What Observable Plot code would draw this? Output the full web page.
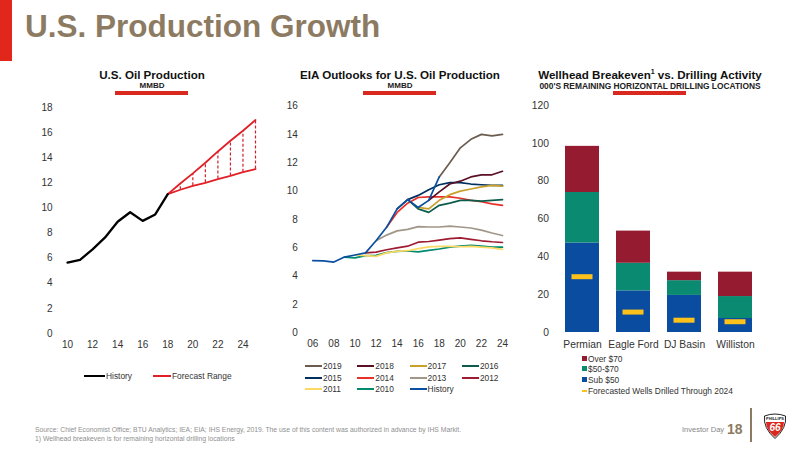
<!DOCTYPE html>
<html><head><meta charset="utf-8">
<script src="https://cdn.jsdelivr.net/npm/d3@7"></script>
<script src="https://cdn.jsdelivr.net/npm/@observablehq/plot@0.6"></script>
<style>
html,body{margin:0;padding:0;background:#fff;}
body{width:800px;height:450px;position:relative;overflow:hidden;font-family:"Liberation Sans",Arial,sans-serif;color:#222;}
.a{position:absolute;white-space:nowrap;}
.ct{font-weight:bold;font-size:11.6px;color:#111;text-align:center;}
.cs{font-weight:bold;font-size:8px;color:#222;text-align:center;}
.rb{position:absolute;height:3.5px;background:#d9281e;}
.lg{position:absolute;font-size:8.4px;color:#333;}
.lg i{position:absolute;display:block;}
.lg span{position:absolute;white-space:nowrap;}
</style></head><body>
<div class="a" style="left:0;top:0;width:12px;height:61px;background:#e1261c"></div>
<div class="a" style="left:25px;top:8px;font-size:31.5px;font-weight:bold;color:#8c7b62;">U.S. Production Growth</div>

<div class="a ct" style="left:52px;width:200px;top:68px">U.S. Oil Production</div>
<div class="a cs" style="left:52px;width:200px;top:81px">MMBD</div>
<div class="rb" style="left:115px;width:73px;top:91px"></div>

<div class="a ct" style="left:300px;width:200px;top:68px">EIA Outlooks for U.S. Oil Production</div>
<div class="a cs" style="left:300px;width:200px;top:81px">MMBD</div>
<div class="rb" style="left:363px;width:73px;top:91px"></div>

<div class="a ct" style="left:530px;width:240px;top:68px">Wellhead Breakeven<sup style="font-size:7px;line-height:0">1</sup> vs. Drilling Activity</div>
<div class="a cs" style="left:530px;width:240px;top:81px;font-size:8.4px">000'S REMAINING HORIZONTAL DRILLING LOCATIONS</div>
<div class="rb" style="left:613px;width:73px;top:91px"></div>

<div id="c1" class="a" style="left:0;top:90px"></div>
<div id="c2" class="a" style="left:270px;top:90px"></div>
<div id="c3" class="a" style="left:520px;top:90px"></div>

<div id="lg1"></div><div id="lg2"></div><div id="lg3"></div>

<div class="a" style="left:35px;top:424.5px;font-size:6.8px;line-height:9px;color:#909090">Source: Chief Economist Office; BTU Analytics; IEA; EIA; IHS Energy, 2019. The use of this content was authorized in advance by IHS Markit.<br>1) Wellhead breakeven is for remaining horizontal drilling locations</div>
<div class="a" style="left:682px;top:424.5px;font-size:7.5px;color:#888">Investor Day</div>
<div class="a" style="left:727px;top:421px;font-size:14px;font-weight:bold;color:#8c7b62">18</div>
<div class="a" style="left:750px;top:408px;width:1.5px;height:34px;background:#8c7b62"></div>
<svg class="a" style="left:763px;top:413px" width="24" height="26" viewBox="0 0 24 26">
<path d="M1.5 3 Q12 -1 22.5 3 Q24 15 12 25.5 Q0 15 1.5 3Z" fill="#fff" stroke="#222" stroke-width="1"/>
<path d="M3 9 H21 Q21 17 12 24 Q3 17 3 9Z" fill="#d9281e"/>
<text x="12" y="7.3" text-anchor="middle" font-size="4" font-weight="bold" fill="#222">PHILLIPS</text>
<text x="12" y="18" text-anchor="middle" font-size="10" font-weight="bold" font-style="italic" fill="#fff">66</text>
</svg>

<script>
// Chart 1
const histYears1 = [10,11,12,13,14,15,16,17,18];
const histValues1 = [5.65,5.87,6.7,7.65,8.9,9.66,8.97,9.48,11.1];
const fcYears = [18,19,20,21,22,23,24,25];
const fcUpper = [11.1,11.95,12.75,13.6,14.5,15.35,16.15,17.0];
const fcLower = [11.1,11.45,11.76,12.0,12.3,12.55,12.85,13.1];

// Chart 2
const eiaYears = [6,7,8,9,10,11,12,13,14,15,16,17,18,19,20,21,22,23,24];
const yr = n => String(n).padStart(2,"0");
const sHistory = [5.1,5.08,5.0,5.35,5.5,5.65,6.5,7.45,8.75,9.4,8.85,9.35,11.0];
const s2019 = [11.0,12.0,13.05,13.65,14.0,13.9,14.0];
const s2018 = [9.35,9.95,10.5,10.7,11.0,11.15,11.15,11.4];
const s2017 = [8.85,8.75,9.35,9.75,10.0,10.15,10.3,10.4,10.35];
const s2016 = [9.4,8.75,8.5,9.0,9.15,9.35,9.35,9.3,9.35,9.4];
const s2015 = [8.75,9.4,9.7,10.1,10.45,10.6,10.6,10.5,10.45,10.4,10.4];
const s2014 = [7.45,8.5,9.15,9.55,9.6,9.6,9.6,9.5,9.35,9.25,9.1,9.0];
const s2013 = [6.5,6.9,7.2,7.3,7.5,7.47,7.47,7.53,7.47,7.4,7.25,7.05,6.87];
const s2012 = [5.65,5.7,5.87,6.0,6.12,6.4,6.45,6.55,6.65,6.7,6.6,6.5,6.43,6.38];
const s2011 = [5.5,5.45,5.4,5.65,5.75,5.8,5.95,6.07,6.1,6.1,6.08,6.1,6.05,6.0,5.9];
const s2010 = [5.35,5.3,5.45,5.47,5.67,5.75,5.78,5.72,5.82,5.92,6.05,6.12,6.17,6.12,6.05,6.05];

const seriesOrder = [
 ["2010",s2010,9,"#008a6e"],["2011",s2011,10,"#fbd964"],["2012",s2012,11,"#9e1b32"],
 ["2013",s2013,12,"#a09788"],["2014",s2014,13,"#e8302a"],["2015",s2015,14,"#00305f"],
 ["2016",s2016,15,"#0c5c4c"],["2017",s2017,16,"#c8a02a"],["2018",s2018,17,"#5a0f24"],
 ["2019",s2019,18,"#6b5c50"],["History",sHistory,6,"#0a50a0"]];

// Chart 3
const basins = ["Permian","Eagle Ford","DJ Basin","Williston"];
const sub50 = [47.3,22,19.6,7.4];
const mid5070 = [26.7,14.6,7.8,11.6];
const over70 = [24.4,17,4.5,12.9];
const forecastWells = [29.5,10.8,6.5,5.7];
const tierColors = {"Sub $50":"#0a4da0","$50-$70":"#0a8a70","Over $70":"#941b30"};

const font = {fontFamily:'"Liberation Sans",Arial,sans-serif',fontSize:"10px",color:"#333",background:"transparent",overflow:"visible"};

// Chart 1 plot: svg origin (0,90)
const hist1 = histYears1.map((x,i)=>({x,y:histValues1[i]}));
const fc = fcYears.map((x,i)=>({x,u:fcUpper[i],l:fcLower[i]}));
document.getElementById("c1").append(Plot.plot({
  width:270,height:270,marginLeft:67,marginRight:15,marginTop:17,marginBottom:27,style:font,
  x:{domain:[10,25],ticks:[10,12,14,16,18,20,22,24],tickFormat:d=>d,tickSize:0,tickPadding:7,label:null},
  y:{domain:[0,18],ticks:d3.range(0,19,2),tickSize:0,tickPadding:15,label:null},
  marks:[
    Plot.ruleX(fc.slice(1),{x:"x",y1:"l",y2:"u",stroke:"#d0202a",strokeWidth:1.2,strokeDasharray:"3,2"}),
    Plot.line(fc,{x:"x",y:"u",stroke:"#e01f26",strokeWidth:1.8}),
    Plot.line(fc,{x:"x",y:"l",stroke:"#e01f26",strokeWidth:1.8}),
    Plot.line(hist1,{x:"x",y:"y",stroke:"#000",strokeWidth:2.3})
  ]}));

// Chart 2 plot: svg origin (270,90)
const rows2 = seriesOrder.flatMap(([name,vals,start,color])=>vals.map((v,i)=>({name,x:start+i,y:v})));
document.getElementById("c2").append(Plot.plot({
  width:250,height:270,marginLeft:42.3,marginRight:18,marginTop:15.5,marginBottom:27.5,style:font,
  x:{domain:[6,24],ticks:d3.range(6,25,2),tickFormat:yr,tickSize:0,tickPadding:7,label:null},
  y:{domain:[0,16],ticks:d3.range(0,17,2),tickSize:0,tickPadding:15,label:null},
  color:{domain:seriesOrder.map(s=>s[0]),range:seriesOrder.map(s=>s[3])},
  marks:[
    ...seriesOrder.map(([name])=>Plot.line(rows2.filter(r=>r.name===name),{x:"x",y:"y",stroke:"name",strokeWidth:1.7}))
  ]}));

// Chart 3 plot: svg origin (520,90)
const rows3 = basins.flatMap((b,i)=>[
  {b,tier:"Sub $50",v:sub50[i]},{b,tier:"$50-$70",v:mid5070[i]},{b,tier:"Over $70",v:over70[i]}]);
const wells = basins.map((b,i)=>({b,v:forecastWells[i]}));
document.getElementById("c3").append(Plot.plot({
  width:280,height:270,marginLeft:36.5,marginRight:39.5,marginTop:15,marginBottom:28,style:{...font,fontSize:"10.3px"},
  x:{domain:basins,paddingInner:1/3,paddingOuter:1/6,tickSize:0,tickPadding:8,label:null},
  y:{domain:[0,120],ticks:d3.range(0,121,20),tickSize:0,tickPadding:8,label:null},
  color:{domain:Object.keys(tierColors),range:Object.values(tierColors)},
  marks:[
    Plot.barY(rows3,Plot.stackY({x:"b",y:"v",fill:"tier",order:Object.keys(tierColors)})),
    Plot.tickY(wells,{x:"b",y:"v",stroke:"#fcc21b",strokeWidth:5,insetLeft:6.5,insetRight:6.5})
  ]}));

// Legends (HTML, real text)
function legend(host,items){
  const el=document.getElementById(host);
  items.forEach(([label,color,x,y,w,h,tx])=>{
    const d=document.createElement("div");d.className="lg";d.style.left=x+"px";d.style.top=Math.round(y)+"px";
    const i=document.createElement("i");i.style.cssText=`left:0;top:${-Math.round(h/2)}px;width:${w}px;height:${h}px;background:${color}`;
    const s=document.createElement("span");s.textContent=label;s.style.left=(tx??w+1)+"px";s.style.top="-5px";
    d.append(i,s);el.append(d);
  });
}
legend("lg1",[["History","#000",84,376,21,2,null],["Forecast Range","#e01f26",153,376,18,2,null]]);
const l2=[["2019","#6b5c50"],["2018","#5a0f24"],["2017","#c8a02a"],["2016","#0c5c4c"],["2015","#00305f"],["2014","#e8302a"],["2013","#a09788"],["2012","#9e1b32"],["2011","#fbd964"],["2010","#008a6e"],["History","#0a50a0"]];
legend("lg2",l2.map(([n,c],i)=>[n,c,305+(i%4)*52.3,366+Math.floor(i/4)*11.6,17,2,null]));
legend("lg3",[["Over $70","#941b30",582,359,5,5,null],["$50-$70","#0a8a70",582,369,5,5,null],["Sub $50","#0a4da0",582,380,5,5,null],["Forecasted Wells Drilled Through 2024","#fcc21b",582,391,5,2,null]]);
</script>
</body></html>
